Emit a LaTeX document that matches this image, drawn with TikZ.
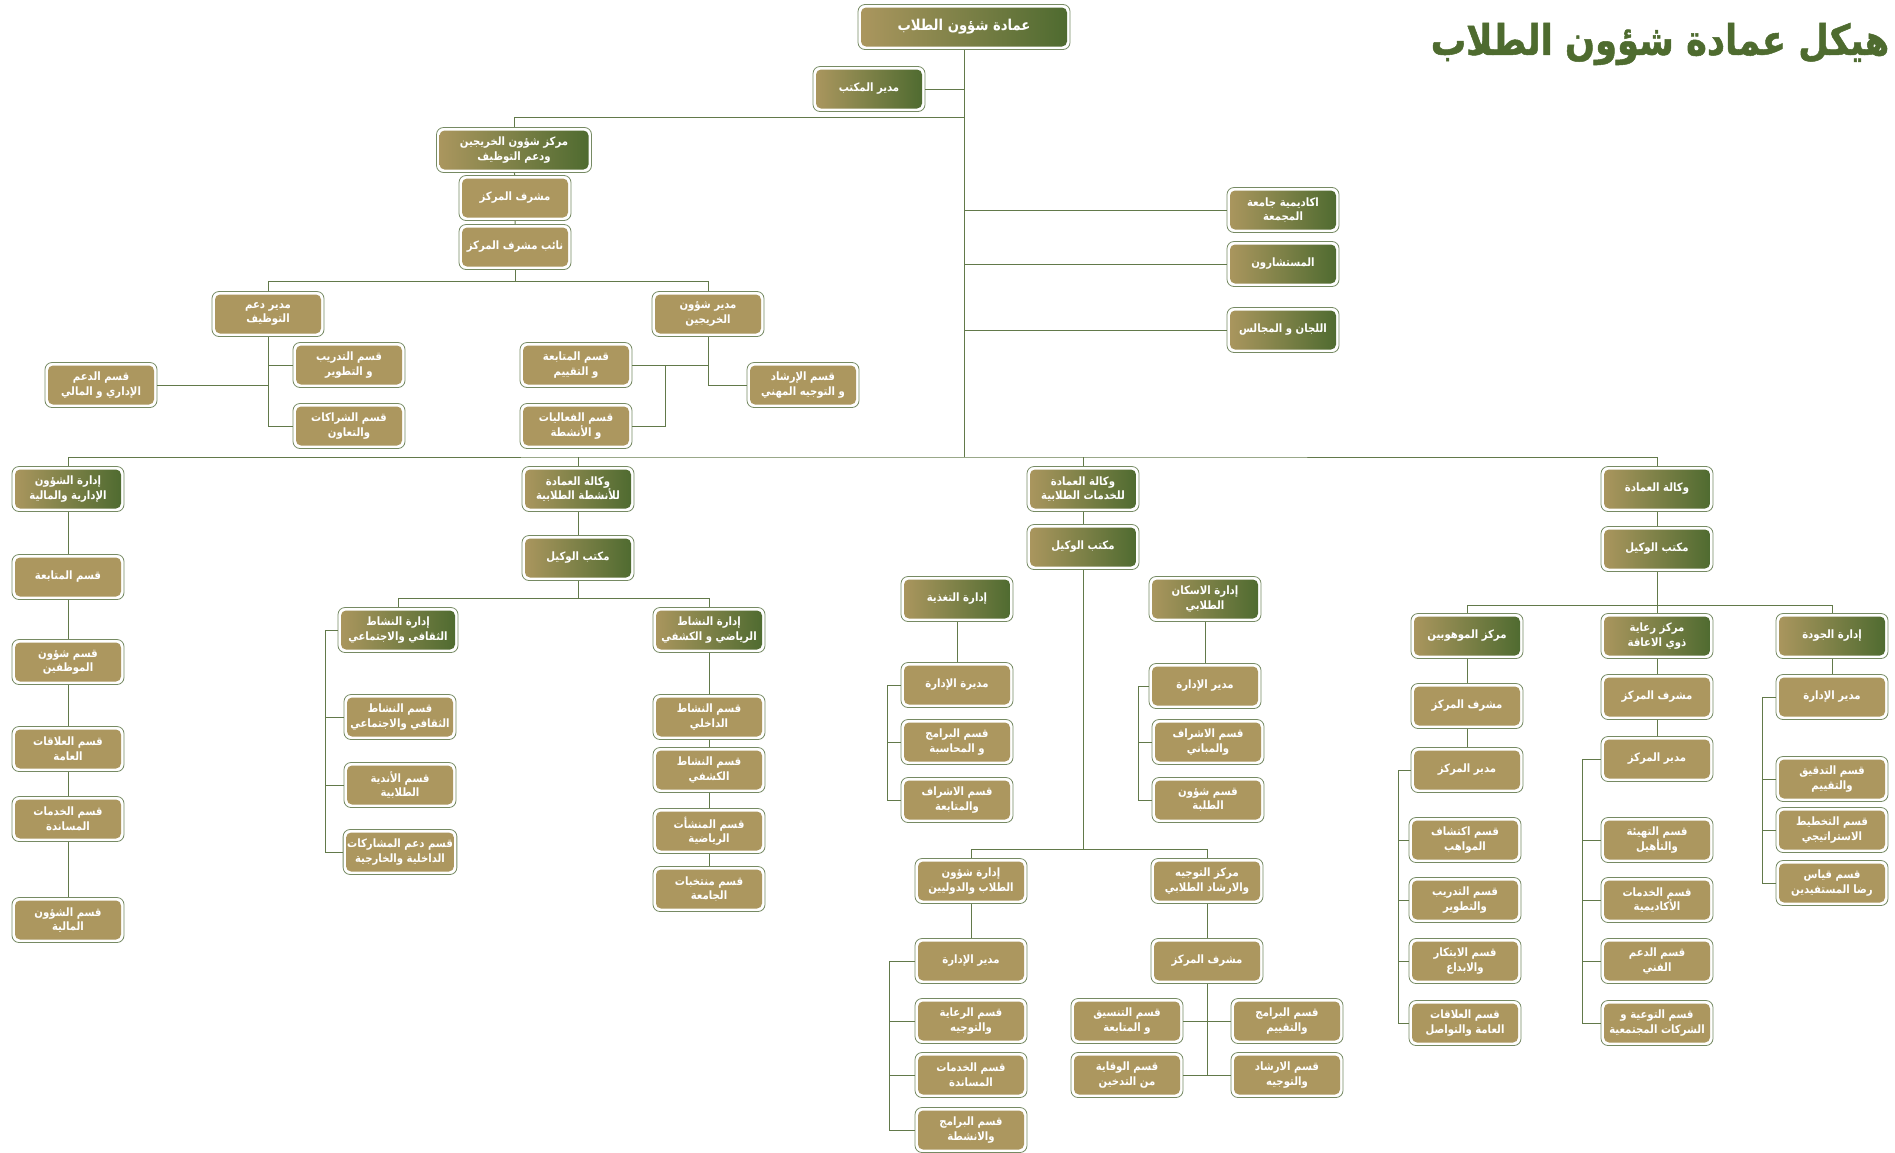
\documentclass[tikz,border=0pt]{standalone}
\usepackage{fontspec}
\newfontfamily\arabicfont[Script=Arabic, FakeStretch=0.88]{DejaVu Sans}
\newfontfamily\titlefont[Script=Arabic, FakeStretch=0.84, FakeBold=1.2]{DejaVu Sans}
\TeXXeTstate=1
\usetikzlibrary{calc}

\definecolor{tanfill}{HTML}{AC975F}
\definecolor{darkgreen}{HTML}{4D6A2F}
\definecolor{boxedge}{HTML}{768A63}
\definecolor{linkgreen}{HTML}{62794A}
\definecolor{titlegreen}{HTML}{4E6B2F}

\newcommand{\ar}[1]{\beginR #1\endR}

\tikzset{
  unit/.style={draw=boxedge, line width=0.8pt, fill=white, rounded corners=7pt,
    minimum width=112pt, minimum height=45pt, inner sep=4pt, align=center,
    text=white, font=\arabicfont\bfseries\fontsize{11.5}{14.5}\selectfont,
    path picture={\fill[tanfill, rounded corners=5pt]
      ([shift={(3pt,-3pt)}]path picture bounding box.north west) rectangle
      ([shift={(-3pt,3pt)}]path picture bounding box.south east);}},
  head/.style={unit,
    path picture={\shade[left color=tanfill, right color=darkgreen, rounded corners=5pt]
      ([shift={(3pt,-3pt)}]path picture bounding box.north west) rectangle
      ([shift={(-3pt,3pt)}]path picture bounding box.south east);}},
  link/.style={draw=linkgreen, line width=1pt},
}

\begin{document}
\begin{tikzpicture}[x=1pt, y=-1pt]
  \useasboundingbox (0,0) rectangle (1895,1152);

  % title
  \node[text=titlegreen, font=\titlefont\bfseries\fontsize{42}{46}\selectfont] (title) at (1660,44) {\ar{هيكل عمادة شؤون الطلاب}};

  % deanship, office and side units
  \node[head, minimum width=212pt, font=\arabicfont\bfseries\fontsize{15}{17}\selectfont] (dean) at (964,27) {\ar{عمادة شؤون الطلاب}};
  \node[head] (offmgr) at (869,89) {\ar{مدير المكتب}};
  \node[head] (acad) at (1283,210) {\ar{اكاديمية جامعة}\\\ar{المجمعة}};
  \node[head] (advis) at (1283,264) {\ar{المستشارون}};
  \node[head] (comm) at (1283,330) {\ar{اللجان و المجالس}};

  % graduates centre
  \node[head, minimum width=155pt] (grad) at (514,150) {\ar{مركز شؤون الخريجين}\\\ar{ودعم التوظيف}};
  \node[unit] (gradsup) at (515,198) {\ar{مشرف المركز}};
  \node[unit] (gradvice) at (515,247) {\ar{نائب مشرف المركز}};
  \node[unit] (empmgr) at (268,314) {\ar{مدير دعم}\\\ar{التوظيف}};
  \node[unit] (alummgr) at (708,314) {\ar{مدير شؤون}\\\ar{الخريجين}};
  \node[unit] (train) at (349,365) {\ar{قسم التدريب}\\\ar{و التطوير}};
  \node[unit] (partner) at (349,426) {\ar{قسم الشراكات}\\\ar{والتعاون}};
  \node[unit] (adminfin) at (101,385) {\ar{قسم الدعم}\\\ar{الإداري و المالي}};
  \node[unit] (followup) at (576,365) {\ar{قسم المتابعة}\\\ar{و التقييم}};
  \node[unit] (events) at (576,426) {\ar{قسم الفعاليات}\\\ar{و الأنشطة}};
  \node[unit] (career) at (803,385) {\ar{قسم الإرشاد}\\\ar{و التوجيه المهني}};

  % administrative and financial affairs
  \node[head] (fin) at (68,489) {\ar{إدارة الشؤون}\\\ar{الإدارية والمالية}};
  \node[unit] (fin1) at (68,577) {\ar{قسم المتابعة}};
  \node[unit] (fin2) at (68,662) {\ar{قسم شؤون}\\\ar{الموظفين}};
  \node[unit] (fin3) at (68,749) {\ar{قسم العلاقات}\\\ar{العامة}};
  \node[unit] (fin4) at (68,819) {\ar{قسم الخدمات}\\\ar{المساندة}};
  \node[unit] (fin5) at (68,920) {\ar{قسم الشؤون}\\\ar{المالية}};

  % student activities
  \node[head] (act) at (578,489) {\ar{وكالة العمادة}\\\ar{للأنشطة الطلابية}};
  \node[head] (actoff) at (578,558) {\ar{مكتب الوكيل}};
  \node[head, minimum width=120pt] (cult) at (398,630) {\ar{إدارة النشاط}\\\ar{الثقافي والاجتماعي}};
  \node[unit] (cult1) at (400,717) {\ar{قسم النشاط}\\\ar{الثقافي والاجتماعي}};
  \node[unit] (cult2) at (400,785) {\ar{قسم الأندية}\\\ar{الطلابية}};
  \node[unit] (cult3) at (400,852) {\ar{قسم دعم المشاركات}\\\ar{الداخلية والخارجية}};
  \node[head] (sport) at (709,630) {\ar{إدارة النشاط}\\\ar{الرياضي و الكشفي}};
  \node[unit] (sport1) at (709,717) {\ar{قسم النشاط}\\\ar{الداخلي}};
  \node[unit] (sport2) at (709,770) {\ar{قسم النشاط}\\\ar{الكشفي}};
  \node[unit] (sport3) at (709,831) {\ar{قسم المنشأت}\\\ar{الرياضية}};
  \node[unit] (sport4) at (709,889) {\ar{قسم منتخبات}\\\ar{الجامعة}};

  % student services
  \node[head] (svc) at (1083,489) {\ar{وكالة العمادة}\\\ar{للخدمات الطلابية}};
  \node[head] (svcoff) at (1083,547) {\ar{مكتب الوكيل}};
  \node[head] (food) at (957,599) {\ar{إدارة التغذية}};
  \node[unit] (food1) at (957,685) {\ar{مديرة الإدارة}};
  \node[unit] (food2) at (957,742) {\ar{قسم البرامج}\\\ar{و المحاسبة}};
  \node[unit] (food3) at (957,800) {\ar{قسم الاشراف}\\\ar{والمتابعة}};
  \node[head] (house) at (1205,599) {\ar{إدارة الاسكان}\\\ar{الطلابي}};
  \node[unit] (house1) at (1205,686) {\ar{مدير الإدارة}};
  \node[unit] (house2) at (1208,742) {\ar{قسم الاشراف}\\\ar{والمباني}};
  \node[unit] (house3) at (1208,800) {\ar{قسم شؤون}\\\ar{الطلبة}};
  \node[unit] (intl) at (971,881) {\ar{إدارة شؤون}\\\ar{الطلاب والدوليين}};
  \node[unit] (intl1) at (971,961) {\ar{مدير الإدارة}};
  \node[unit] (intl2) at (971,1021) {\ar{قسم الرعاية}\\\ar{والتوجيه}};
  \node[unit] (intl3) at (971,1075) {\ar{قسم الخدمات}\\\ar{المساندة}};
  \node[unit] (intl4) at (971,1130) {\ar{قسم البرامج}\\\ar{والانشطة}};
  \node[unit] (guid) at (1207,881) {\ar{مركز التوجيه}\\\ar{والارشاد الطلابي}};
  \node[unit] (guid1) at (1207,961) {\ar{مشرف المركز}};
  \node[unit] (coord) at (1127,1021) {\ar{قسم التنسيق}\\\ar{و المتابعة}};
  \node[unit] (prog) at (1287,1021) {\ar{قسم البرامج}\\\ar{والتقييم}};
  \node[unit] (smoke) at (1127,1075) {\ar{قسم الوقاية}\\\ar{من التدخين}};
  \node[unit] (couns) at (1287,1075) {\ar{قسم الارشاد}\\\ar{والتوجيه}};

  % deanship agency
  \node[head] (vice) at (1657,489) {\ar{وكالة العمادة}};
  \node[head] (viceoff) at (1657,549) {\ar{مكتب الوكيل}};
  \node[head] (gift) at (1467,636) {\ar{مركز الموهوبين}};
  \node[unit] (gift1) at (1467,706) {\ar{مشرف المركز}};
  \node[unit] (gift2) at (1467,770) {\ar{مدير المركز}};
  \node[unit] (gift3) at (1465,840) {\ar{قسم اكتشاف}\\\ar{المواهب}};
  \node[unit] (gift4) at (1465,900) {\ar{قسم التدريب}\\\ar{والتطوير}};
  \node[unit] (gift5) at (1465,961) {\ar{قسم الابتكار}\\\ar{والابداع}};
  \node[unit] (gift6) at (1465,1023) {\ar{قسم العلاقات}\\\ar{العامة والتواصل}};
  \node[head] (disab) at (1657,636) {\ar{مركز رعاية}\\\ar{ذوي الاعاقة}};
  \node[unit] (disab1) at (1657,697) {\ar{مشرف المركز}};
  \node[unit] (disab2) at (1657,759) {\ar{مدير المركز}};
  \node[unit] (disab3) at (1657,840) {\ar{قسم التهيئة}\\\ar{والتأهيل}};
  \node[unit] (disab4) at (1657,900) {\ar{قسم الخدمات}\\\ar{الأكاديمية}};
  \node[unit] (disab5) at (1657,961) {\ar{قسم الدعم}\\\ar{الفني}};
  \node[unit] (disab6) at (1657,1023) {\ar{قسم التوعية و}\\\ar{الشركات المجتمعية}};
  \node[head] (qual) at (1832,636) {\ar{إدارة الجودة}};
  \node[unit] (qual1) at (1832,697) {\ar{مدير الإدارة}};
  \node[unit] (qual2) at (1832,779) {\ar{قسم التدقيق}\\\ar{والتقييم}};
  \node[unit] (qual3) at (1832,830) {\ar{قسم التخطيط}\\\ar{الاستراتيجي}};
  \node[unit] (qual4) at (1832,883) {\ar{قسم قياس}\\\ar{رضا المستفيدين}};

  % trunk and main bus
  \coordinate (bus) at (964,457);
  \coordinate (gradbus) at (964,117);
  \draw[link] (dean) -- (bus);
  \draw[link] (offmgr) -- (offmgr -| dean);
  \draw[link] (gradbus) -| (grad.north);
  \foreach \n in {acad,advis,comm}
    \draw[link] (\n) -- (\n -| dean);
  \draw[link] (fin.north) |- (bus) -| (vice.north);
  \draw[link] (act.north) -- (act.north |- bus);
  \draw[link] (svc.north) -- (svc.north |- bus);

  % graduates centre links
  \draw[link] (grad) -- (gradsup) -- (gradvice);
  \draw[link] (gradvice.south) -- ++(0,12) coordinate (gradsplit);
  \draw[link] (empmgr.north) |- (gradsplit) -| (alummgr.north);
  \draw[link] (empmgr.south) |- (partner.west);
  \draw[link] (train.west) -- (train.west -| empmgr);
  \draw[link] (adminfin.east) -- (adminfin.east -| empmgr);
  \coordinate (fjoin) at (665,365);
  \draw[link] (alummgr.south) |- (career.west);
  \draw[link] (followup.east) -- (followup.east -| alummgr);
  \draw[link] (fjoin) |- (events.east);

  % column links
  \foreach \a/\b in {fin/fin1,fin1/fin2,fin2/fin3,fin3/fin4,fin4/fin5,
                     act/actoff,sport/sport1,sport1/sport2,sport2/sport3,sport3/sport4,
                     svc/svcoff,food/food1,house/house1,intl/intl1,guid/guid1,
                     vice/viceoff,viceoff/disab,gift/gift1,gift1/gift2,
                     disab/disab1,disab1/disab2,qual/qual1}
    \draw[link] (\a) -- (\b);

  % student activities split
  \draw[link] (actoff.south) -- ++(0,18) coordinate (actsplit);
  \draw[link] (cult.north) |- (actsplit) -| (sport.north);
  \draw[link] (cult.west) -- ++(-12,0) |- (cult3.west);
  \draw[link] (cult1.west) -- ++(-18,0);
  \draw[link] (cult2.west) -- ++(-18,0);

  % student services split
  \coordinate (svcsplit) at (1083,849);
  \draw[link] (svcoff) -- (svcsplit);
  \draw[link] (intl.north) |- (svcsplit) -| (guid.north);
  \draw[link] (food1.west) -- ++(-13,0) |- (food3.west);
  \draw[link] (food2.west) -- ++(-13,0);
  \draw[link] (house1.west) -- ++(-10,0) |- (house3.west);
  \draw[link] (house2.west) -- ++(-13,0);
  \draw[link] (intl1.west) -- ++(-25,0) |- (intl4.west);
  \draw[link] (intl2.west) -- ++(-25,0);
  \draw[link] (intl3.west) -- ++(-25,0);
  \draw[link] (guid1.south) -- (guid1.south |- couns.west);
  \draw[link] (coord) -- (prog);
  \draw[link] (smoke) -- (couns);

  % deanship agency split
  \coordinate (vicesplit) at (1657,605);
  \draw[link] (gift.north) |- (vicesplit) -| (qual.north);
  \draw[link] (gift2.west) -- ++(-12,0) |- (gift6.west);
  \foreach \n in {gift3,gift4,gift5}
    \draw[link] (\n.west) -- ++(-10,0);
  \draw[link] (disab2.west) -- ++(-18,0) |- (disab6.west);
  \foreach \n in {disab3,disab4,disab5}
    \draw[link] (\n.west) -- ++(-18,0);
  \draw[link] (qual1.west) -- ++(-13,0) |- (qual4.west);
  \foreach \n in {qual2,qual3}
    \draw[link] (\n.west) -- ++(-13,0);
\end{tikzpicture}
\end{document}
